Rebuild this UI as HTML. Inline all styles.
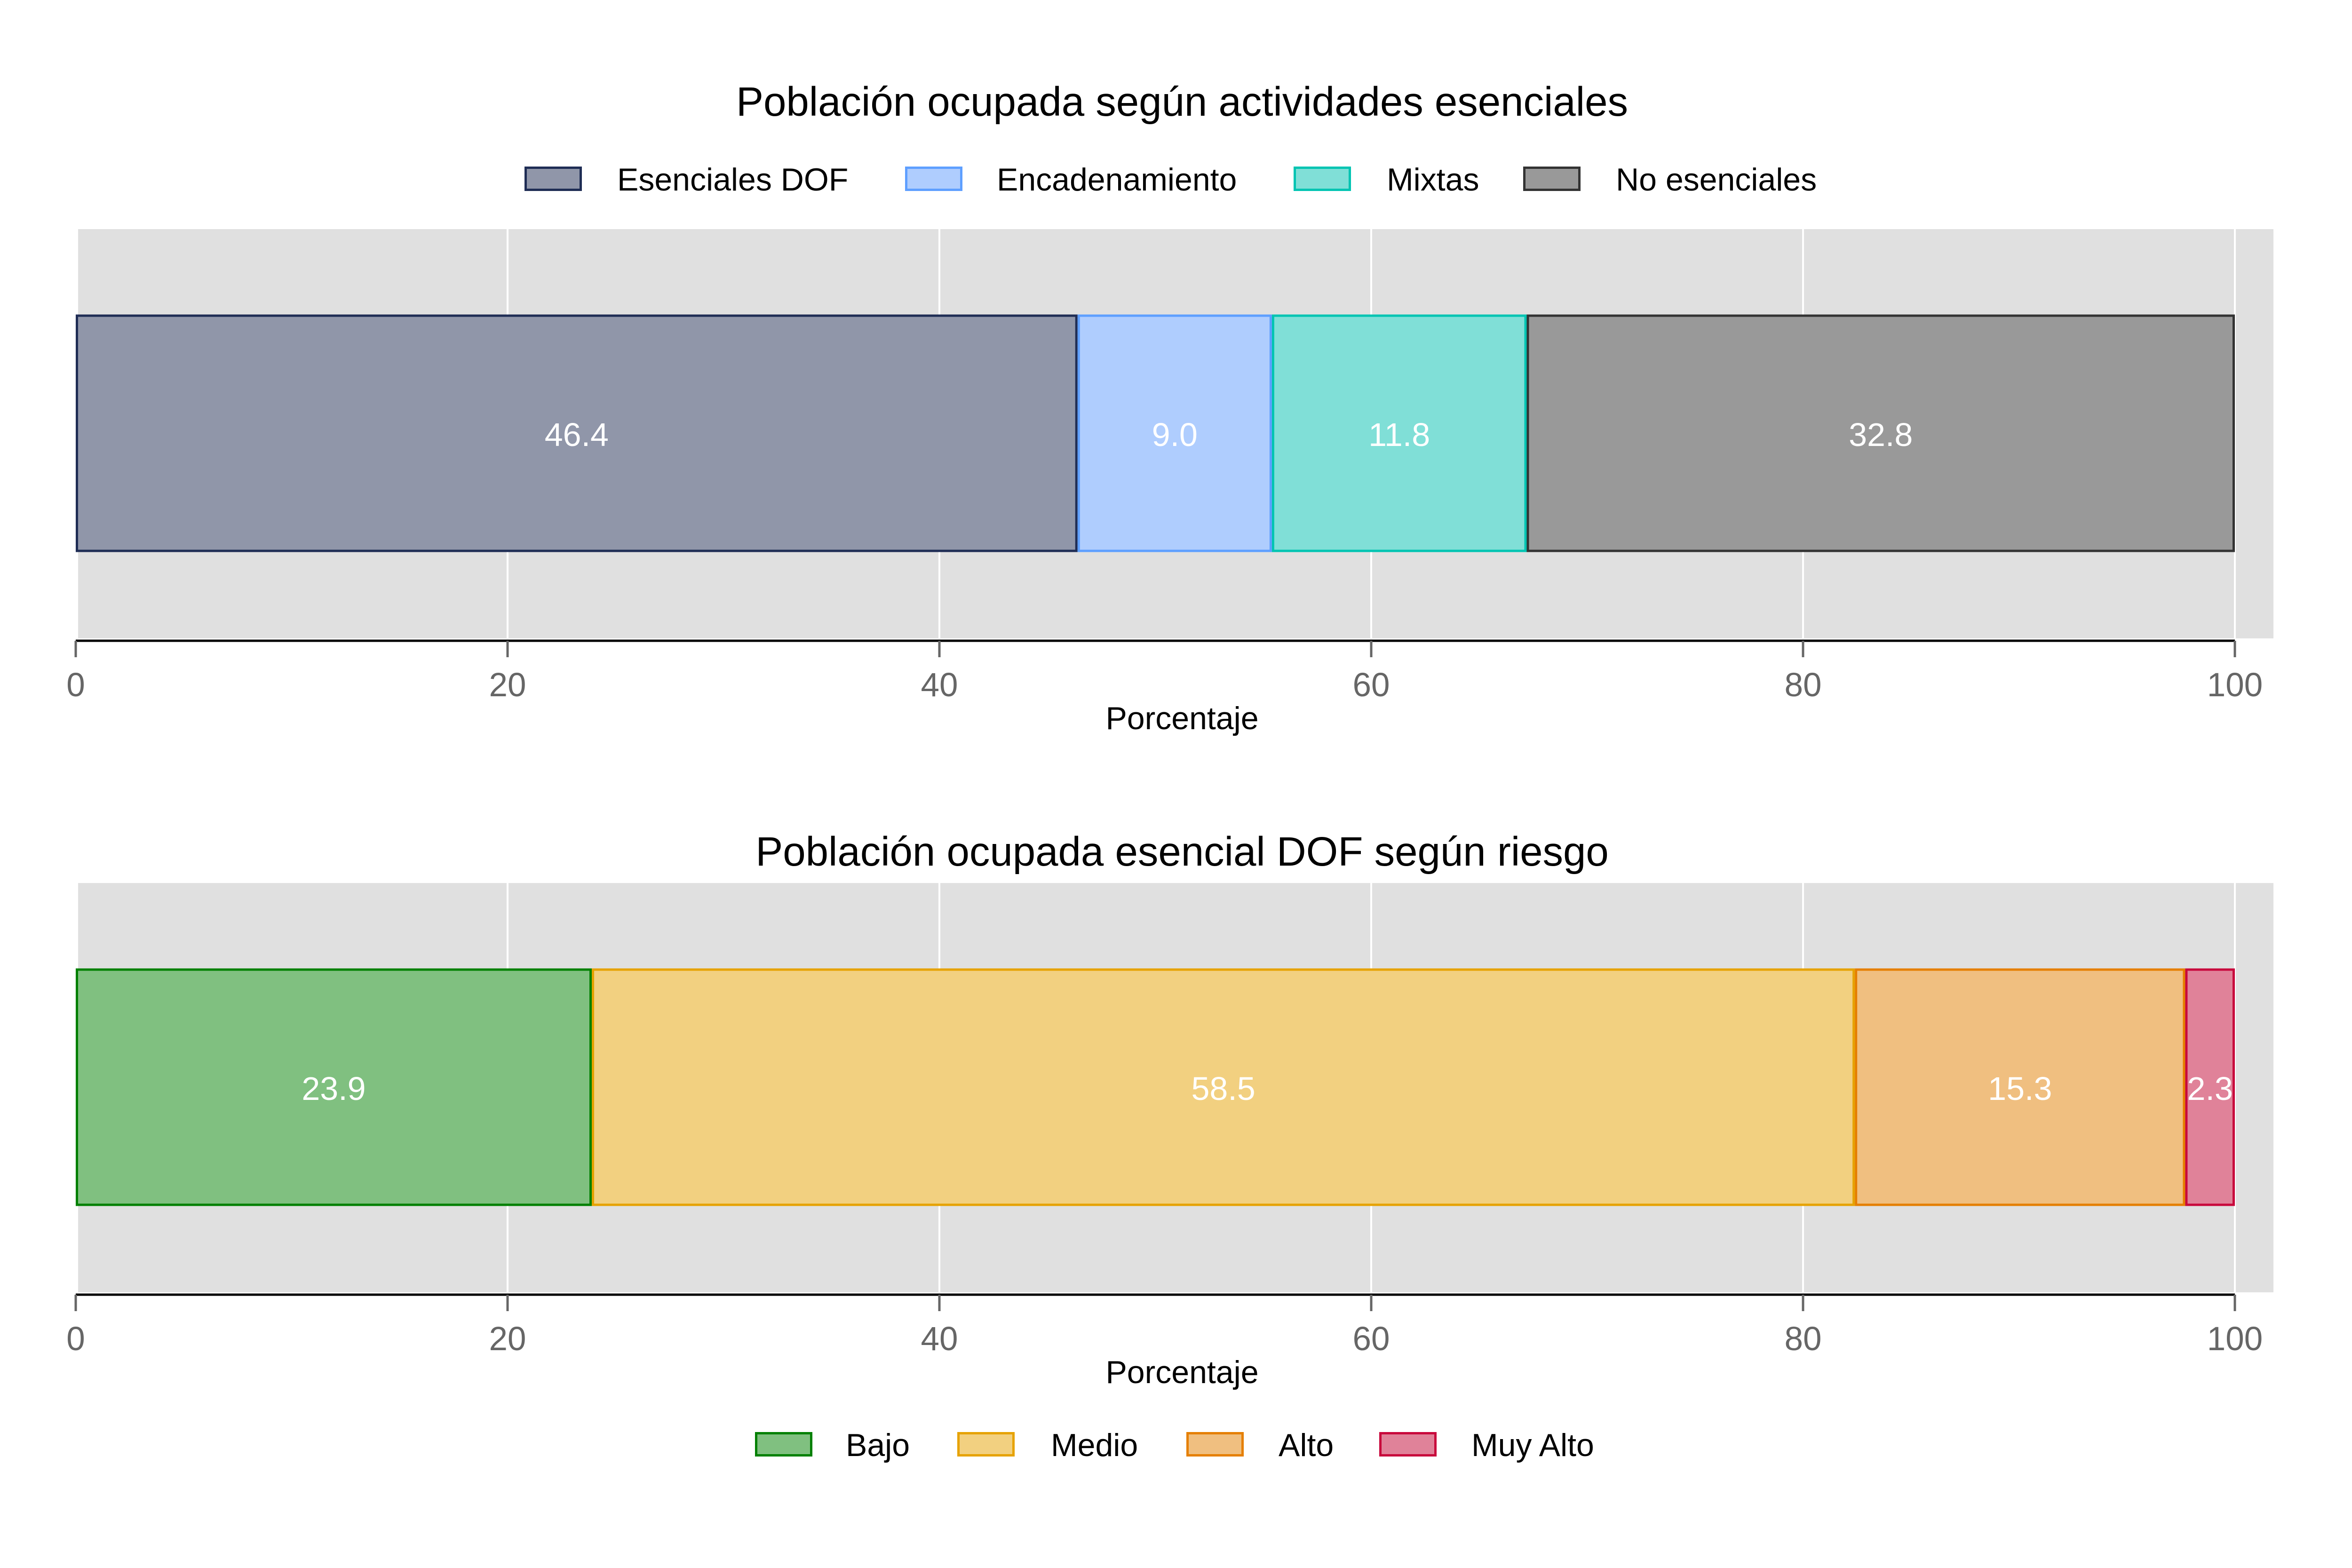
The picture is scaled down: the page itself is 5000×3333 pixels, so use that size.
<!DOCTYPE html>
<html><head><meta charset="utf-8"><style>
html,body{margin:0;padding:0;background:#fff;}
svg{display:block;font-family:"Liberation Sans",Arial,sans-serif;}
</style></head><body>
<svg id="chart" width="5000" height="3333" viewBox="0 0 5000 3333" xmlns="http://www.w3.org/2000/svg">
<rect width="5000" height="3333" fill="#fff"/>
</svg>
<script>
const topCategories = ["Esenciales DOF","Encadenamiento","Mixtas","No esenciales"];
const topValues = [46.4, 9.0, 11.8, 32.8];
const topFills = ["#9096a9","#afcdfe","#80dfd7","#999999"];
const topStrokes = ["#1f2d55","#5e9fff","#00c4b2","#333333"];
const bottomCategories = ["Bajo","Medio","Alto","Muy Alto"];
const bottomValues = [23.9, 58.5, 15.3, 2.3];
const bottomFills = ["#80c080","#f2d080","#f0bf80","#e08299"];
const bottomStrokes = ["#008000","#e6a200","#e57f00","#c8083c"];
const tickValues = [0, 20, 40, 60, 80, 100];

const svg = document.getElementById('chart');
const NS = 'http://www.w3.org/2000/svg';
function mk(tag, attrs, parent){
  const e = document.createElementNS(NS, tag);
  for (const k in attrs) e.setAttribute(k, attrs[k]);
  (parent||svg).appendChild(e);
  return e;
}
const X0 = 161, X1 = 4751;
function xScale(v){ return X0 + (v/100)*(X1-X0); }

function panel(off, titleY, title, cats, vals, fills, strokes, legendY, legendKeys, legendTexts, prefix){
  const g = mk('g', {});
  
  
  const bg = mk('rect', {x:166, y:487+off, width:4667, height:870, fill:'#e0e0e0'}, g);
  
  
  tickValues.forEach(t => {
    const gl = mk('line', {x1:xScale(t), x2:xScale(t), y1:487+off, y2:1357+off, stroke:'#fff', 'stroke-width':4}, g);
    
    
  });
  let cum = 0;
  vals.forEach((v, i) => {
    const x = xScale(cum), w = xScale(cum+v) - xScale(cum);
    const r = mk('rect', {x:x+2.5, y:671+off, width:Math.max(w-5,0), height:500, fill:fills[i], stroke:strokes[i], 'stroke-width':5}, g);
    
    
    const t = mk('text', {x:x+w/2, y:948+off, 'text-anchor':'middle', 'font-size':70, fill:'#fff'}, g);
    t.textContent = v.toFixed(1);
    
    
    cum += v;
  });
  const ax = mk('line', {x1:X0, x2:X1, y1:1362+off, y2:1362+off, stroke:'#000', 'stroke-width':5}, g);
  
  
  tickValues.forEach(tv => {
    const tk = mk('line', {x1:xScale(tv), x2:xScale(tv), y1:1362+off, y2:1397+off, stroke:'#666', 'stroke-width':5}, g);
    
    
    const tl = mk('text', {x:xScale(tv), y:1480+off, 'text-anchor':'middle', 'font-size':71, fill:'#666'}, g);
    tl.textContent = tv;
    
    
  });
  const xt = mk('text', {x:2513, y:1550+off, 'text-anchor':'middle', 'font-size':68, fill:'#000'}, g);
  xt.textContent = 'Porcentaje';
  
  
  const tt = mk('text', {x:2513, y:titleY, 'text-anchor':'middle', 'font-size':87, fill:'#000'}, g);
  tt.textContent = title;
  
  
  cats.forEach((c, i) => {
    const k = mk('rect', {x:legendKeys[i]+2.5, y:legendY-26+2.5, width:117, height:47, fill:fills[i], stroke:strokes[i], 'stroke-width':5}, g);
    
    
    const lt = mk('text', {x:legendTexts[i], y:legendY+25, 'font-size':68, fill:'#000'}, g);
    lt.textContent = c;
    
    
  });
}
panel(0, 246, 'Población ocupada según actividades esenciales', topCategories, topValues, topFills, topStrokes,
  380, [1115,1924,2750,3238], [1312,2119,2948,3435], 'top');
panel(1390, 1840, 'Población ocupada esencial DOF según riesgo', bottomCategories, bottomValues, bottomFills, bottomStrokes,
  3070, [1605,2035,2522,2932], [1798,2234,2718,3128], 'bottom');
</script>
</body></html>
